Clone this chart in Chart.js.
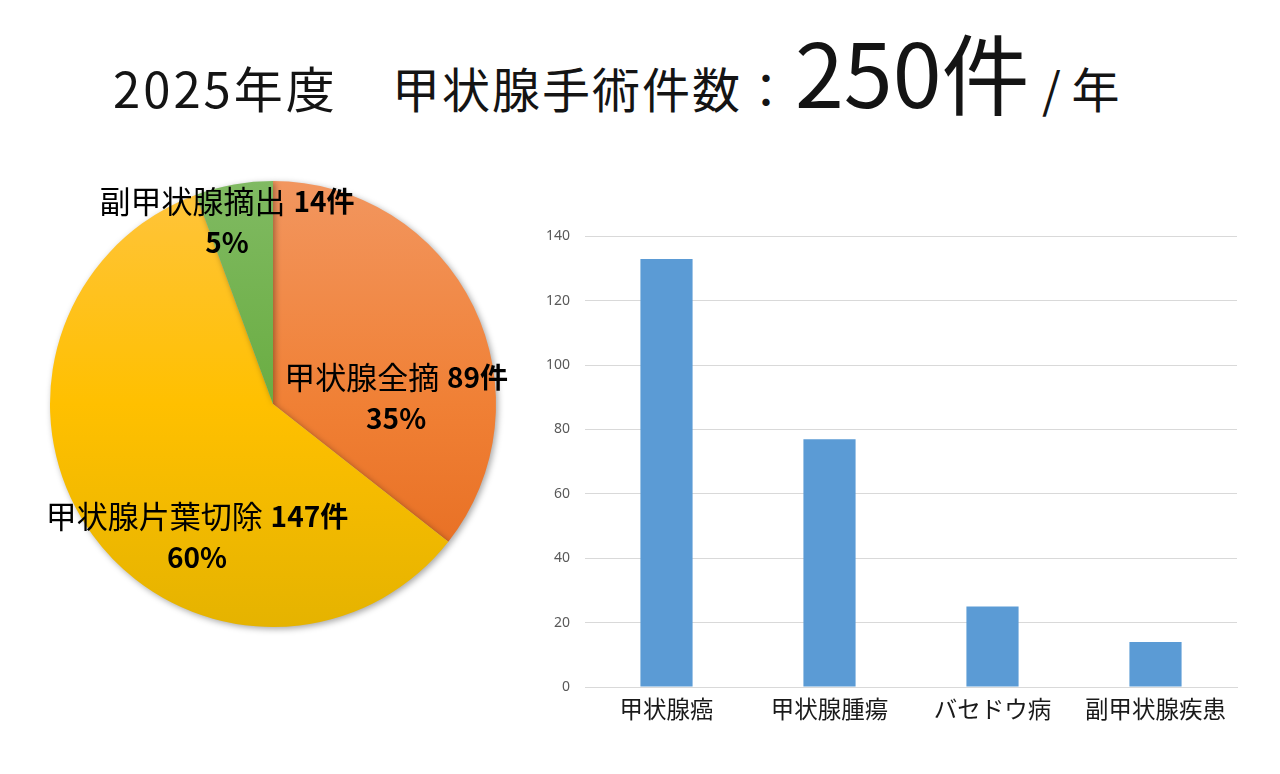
<!DOCTYPE html>
<html lang="ja">
<head>
<meta charset="utf-8">
<script src="https://cdn.jsdelivr.net/npm/chart.js@4.4.1/dist/chart.umd.min.js"></script>
<style>
  html, body { margin: 0; padding: 0; background: #fff; }
  body { width: 1280px; height: 774px; position: relative; overflow: hidden; font-family: "Noto Sans CJK JP", "Noto Sans", sans-serif; }
  #title { position: absolute; left: 113px; top: 26px; display: flex; align-items: baseline; color: #141414; white-space: nowrap; }
  #title span { display: inline-block; line-height: 1; }
  .t1 { width: 279px; font-size: 49px; letter-spacing: 3px; }
  .t2 { width: 403px; font-size: 48px; letter-spacing: 2px; }
  .t3 { width: 247px; font-size: 88px; }
  .t4 { font-size: 48px; }
  #pieBox { position: absolute; left: 20px; top: 160px; width: 520px; height: 490px; }
  #barBox { position: absolute; left: 530px; top: 213px; width: 730px; height: 527px; }
</style>
</head>
<body>
<div id="title"><span class="t1">2025年度</span><span class="t2">甲状腺手術件数：</span><span class="t3">250件</span><span class="t4">/ 年</span></div>
<div id="pieBox"><canvas id="pie"></canvas></div>
<div id="barBox"><canvas id="bar"></canvas></div>
<script>
// ---- data ----
const pieLabels = ['甲状腺全摘', '甲状腺片葉切除', '副甲状腺摘出'];
const pieValues = [89, 147, 14];
const pieUnit = '件';
const piePercents = ['35%', '60%', '5%'];

const barCategories = ['甲状腺癌', '甲状腺腫瘍', 'バセドウ病', '副甲状腺疾患'];
const barValues = [133, 77, 25, 14];
const yTicks = [0, 20, 40, 60, 80, 100, 120, 140];

// ---- styles ----
const pieGradients = [
  ['#F2965F', '#F08035', '#E4681C'],
  ['#FFC43E', '#FFC000', '#E5B300'],
  ['#80BA62', '#6AAD42', '#5CA02E']
];
const labelAnchors = [[0.552, -0.029], [-0.341, 0.594], [-0.206, -0.818]];

const CJK = '"Noto Sans CJK JP", "Noto Sans", sans-serif';

function sliceGradient(ctx) {
  const chart = ctx.chart;
  const area = chart.chartArea;
  if (!area) return pieGradients[ctx.dataIndex][1];
  const stops = pieGradients[ctx.dataIndex];
  const g = chart.ctx.createLinearGradient(0, area.top, 0, area.bottom);
  g.addColorStop(0, stops[0]);
  g.addColorStop(0.5, stops[1]);
  g.addColorStop(1, stops[2]);
  return g;
}

const pieShadow = {
  id: 'pieShadow',
  beforeDatasetsDraw(chart) {
    const c = chart.ctx;
    c.save();
    c.shadowColor = 'rgba(0,0,0,0.35)';
    c.shadowBlur = 6;
    c.shadowOffsetX = 2;
    c.shadowOffsetY = 2;
  },
  afterDatasetsDraw(chart) { chart.ctx.restore(); }
};

const pieText = {
  id: 'pieText',
  afterDraw(chart) {
    const c = chart.ctx;
    const arc = chart.getDatasetMeta(0).data[0];
    const cx = arc.x, cy = arc.y, r = arc.outerRadius;
    c.save();
    c.fillStyle = '#000';
    c.textBaseline = 'middle';
    pieLabels.forEach((name, i) => {
      const x = cx + labelAnchors[i][0] * r;
      const y = cy + labelAnchors[i][1] * r;
      const fName = '400 31px ' + CJK;
      const fBold = '700 28px ' + CJK;
      const part1 = name + '  ';
      const part2 = pieValues[i] + pieUnit;
      c.font = fName; const w1 = c.measureText(part1).width - 6;
      c.font = fBold; const w2 = c.measureText(part2).width;
      let sx = x - (w1 + w2) / 2;
      c.textAlign = 'left';
      c.font = fName; c.fillText(part1, sx, y - 20.5);
      c.font = fBold; c.fillText(part2, sx + w1, y - 20.5);
      c.textAlign = 'center';
      c.fillText(piePercents[i], x, y + 20.5);
    });
    c.restore();
  }
};

new Chart(document.getElementById('pie'), {
  type: 'pie',
  data: {
    labels: pieLabels,
    datasets: [{ data: pieValues, backgroundColor: sliceGradient, borderWidth: 0 }]
  },
  options: {
    responsive: true,
    maintainAspectRatio: false,
    animation: false,
    layout: { padding: { left: 30, top: 21, right: 44, bottom: 23 } },
    plugins: { legend: { display: false }, tooltip: { enabled: false } }
  },
  plugins: [pieShadow, pieText]
});

new Chart(document.getElementById('bar'), {
  type: 'bar',
  data: {
    labels: barCategories,
    datasets: [{ data: barValues, backgroundColor: '#5B9BD5', borderWidth: 0, barPercentage: 0.32, categoryPercentage: 1 }]
  },
  options: {
    responsive: true,
    maintainAspectRatio: false,
    animation: false,
    layout: { padding: { left: 0, top: 9, right: 23, bottom: 0 } },
    plugins: { legend: { display: false }, tooltip: { enabled: false } },
    scales: {
      x: {
        grid: { display: false, drawTicks: false },
        border: { display: true, color: '#D9D9D9', width: 1 },
        ticks: { color: '#1a1a1a', font: { family: CJK, size: 23.5 }, padding: 8, maxRotation: 0, autoSkip: false },
        afterFit(s) { s.height = 53; }
      },
      y: {
        min: 0, max: 140,
        afterBuildTicks(s) { s.ticks = yTicks.map(v => ({ value: v })); },
        grid: { color: '#D9D9D9', lineWidth: 1, drawTicks: false },
        border: { display: false },
        ticks: { color: '#595959', font: { family: '"Noto Sans", sans-serif', size: 14 }, padding: 15 },
        afterFit(s) { s.width = 55; }
      }
    }
  }
});
</script>
</body>
</html>
